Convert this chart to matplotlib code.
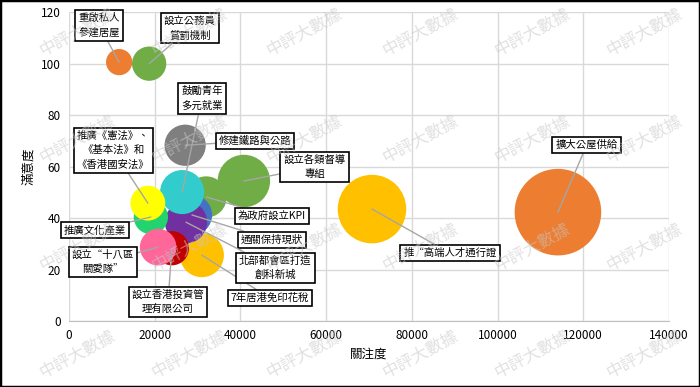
import numpy as np
import matplotlib
matplotlib.use('Agg')
import matplotlib.pyplot as plt
from matplotlib.patches import Rectangle

plt.rcParams['font.family'] = ['Noto Sans CJK TC', 'DejaVu Sans']

# policy bubbles: 關注度 (x), 滿意度 (y), bubble size
policies = ['擴大公屋供給', '推“高端人才通行證', '設立各類督導\n專組', '為政府設立KPI',
            '修建鐵路與公路', '7年居港免印花稅', '通關保持現狀', '北部都會區打造\n創科新城',
            '設立香港投資管\n理有限公司', '鼓勵青年\n多元就業', '推廣文化產業',
            '推廣《憲法》、\n《基本法》和\n《香港國安法》', '設立“十八區\n關愛隊”',
            '重啟私人\n參建居屋', '設立公務員\n賞罰機制']
attention = [114100, 70700, 40800, 32000, 27100, 31000, 28700, 27300,
             24000, 26400, 19100, 18400, 20800, 11700, 18700]
satisfaction = [42.3, 43.5, 54.4, 48.2, 68.3, 25.6, 41.2, 38.4,
                28.3, 50.1, 40.4, 45.8, 28.7, 100.6, 100.0]
bubble = [1850, 1160, 680, 420, 420, 480, 400, 440,
          290, 480, 290, 300, 330, 170, 290]
colors = ['#ed7d31', '#ffc000', '#70ad47', '#70ad47', '#7f7f7f', '#ffc000', '#4472c4', '#7030a0',
          '#c00000', '#33cccc', '#22d36f', '#ffff00', '#ff6699', '#ed7d31', '#70ad47']
# label box centres (data coords)
label_x = [120800, 88900, 57300, 47400, 43400, 46900, 47400, 48100,
           23100, 31000, 6100, 10300, 7900, 7000, 28200]
label_y = [68.3, 26.4, 59.8, 40.8, 70.0, 8.9, 31.5, 20.6,
           7.4, 86.6, 35.3, 66.4, 22.9, 114.9, 113.8]

fig = plt.figure(figsize=(7.0, 3.87), dpi=100)
ax = fig.add_axes([0.0986, 0.1705, 0.857, 0.798])

sizes = np.array(bubble) * 2.1
ax.scatter(attention, satisfaction, s=sizes, c=colors, linewidths=0, zorder=3)

for i, name in enumerate(policies):
    ax.annotate(name, xy=(attention[i], satisfaction[i]), xytext=(label_x[i], label_y[i]),
                ha='center', va='center', fontsize=7.5, linespacing=1.5, zorder=5,
                bbox=dict(boxstyle='square,pad=0.3', fc='white', ec='black', lw=1.2),
                arrowprops=dict(arrowstyle='-', color='#a6a6a6', lw=1, shrinkA=0, shrinkB=0),
                annotation_clip=False)

ax.set_xlim(0, 140000)
ax.set_ylim(0, 120)
ax.set_xticks(np.arange(0, 140001, 20000))
ax.set_yticks(np.arange(0, 121, 20))
ax.grid(True, color='#d9d9d9', lw=1)
ax.set_axisbelow(True)
for s in ['top', 'right', 'left']:
    ax.spines[s].set_visible(False)
ax.spines['bottom'].set_color('#bfbfbf')
ax.tick_params(length=0, labelsize=8.5, pad=6)
ax.set_xlabel('關注度', fontsize=9, labelpad=4)
ax.set_ylabel('滿意度', fontsize=9, labelpad=4)

# watermark
for wy in [0.915, 0.64, 0.36, 0.085]:
    for wx in [0.11, 0.27, 0.435, 0.6, 0.76, 0.92]:
        fig.text(wx, wy, '中評大數據', fontsize=12, color='#c8c8c8', alpha=0.55,
                 rotation=28, ha='center', va='center', zorder=10)

fig.patches.append(Rectangle((0, 0), 1, 1, transform=fig.transFigure, fill=False,
                             ec='black', lw=2.5))
fig.savefig('out.png', dpi=100)
